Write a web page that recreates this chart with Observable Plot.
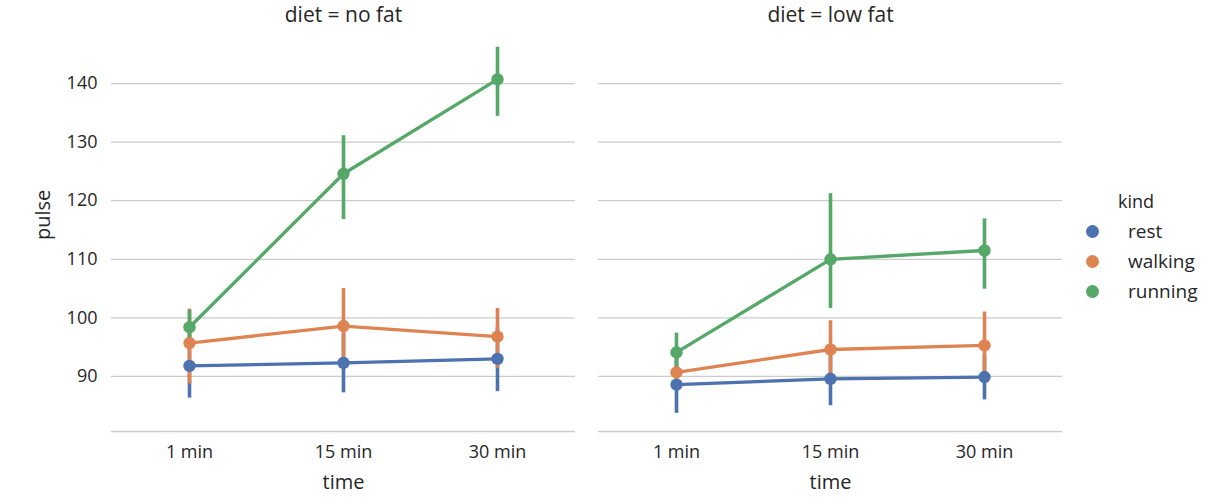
<!DOCTYPE html>
<html>
<head>
<meta charset="utf-8">
<script src="https://cdn.jsdelivr.net/npm/d3@7"></script>
<script src="https://cdn.jsdelivr.net/npm/@observablehq/plot@0.6"></script>
<style>
  html, body { margin: 0; padding: 0; background: white; }
  #wrap { position: relative; width: 1208px; height: 501px; font-family: 'Open Sans', 'Noto Sans', sans-serif; color: #262626; }
  #legend { position: absolute; left: 1080px; top: 189px; font-size: 19px; }
  #legend .title { position: absolute; left: 38px; top: 0; white-space: nowrap; font-size: 18px; }
  #legend .item { position: absolute; left: 0; white-space: nowrap; height: 26px; line-height: 26px; }
  #legend .sw { position: absolute; left: 6px; top: 6.5px; width: 13px; height: 13px; border-radius: 50%; }
  #legend .lab { position: absolute; left: 48px; top: 0; }
</style>
</head>
<body>
<div id="wrap"><div id="chart"></div><div id="legend"></div></div>
<script>
const diets = ["no fat", "low fat"];
const kinds = ["rest", "walking", "running"];
const times = ["1 min", "15 min", "30 min"];
const colors = ["#4c72b0", "#dd8452", "#55a868"];
const yTicks = [90, 100, 110, 120, 130, 140];
const yMin = 80.6, yMax = 149.4;

// values ordered: rest (1,15,30 min), walking (1,15,30), running (1,15,30)
const meanNoFat = [91.8, 92.3, 93.0, 95.7, 98.6, 96.8, 98.4, 124.6, 140.7];
const lowNoFat  = [86.3, 87.2, 87.4, 88.7, 91.6, 91.4, 95.5, 116.8, 134.4];
const highNoFat = [97.2, 97.4, 98.4, 101.5, 105.0, 101.6, 101.3, 131.1, 146.2];
const meanLowFat = [88.6, 89.6, 89.9, 90.7, 94.6, 95.3, 94.1, 110.0, 111.5];
const lowLowFat  = [83.7, 85.0, 86.0, 87.6, 89.6, 89.2, 90.5, 101.6, 104.9];
const highLowFat = [93.4, 94.2, 93.8, 93.6, 99.5, 101.0, 97.4, 121.2, 116.9];

const means = [meanNoFat, meanLowFat], lows = [lowNoFat, lowLowFat], highs = [highNoFat, highLowFat];
const rows = [];
diets.forEach((diet, di) => kinds.forEach((kind, ki) => times.forEach((time, ti) => {
  const i = ki * 3 + ti;
  rows.push({diet, kind, time, pulse: means[di][i], low: lows[di][i], high: highs[di][i]});
})));

const font = "'Open Sans', 'Noto Sans', sans-serif";
const chart = Plot.plot({
  width: 1208,
  height: 501,
  marginLeft: 110,
  marginRight: 145,
  marginTop: 28,
  marginBottom: 70,
  style: {fontFamily: font, fontSize: "18px", color: "#262626", background: "white", overflow: "visible"},
  fx: {domain: diets, padding: 0.0471, axis: null},
  x: {type: "point", domain: times, padding: 0.5, label: null, tickSize: 0, tickPadding: 14},
  y: {domain: [yMin, yMax], ticks: yTicks, label: null, tickSize: 0, tickPadding: 14},
  color: {domain: kinds, range: colors},
  marks: [
    Plot.ruleY(yTicks, {stroke: "#cccccc", strokeWidth: 1.2}),
    Plot.ruleY([yMin], {stroke: "#cccccc", strokeWidth: 1.5}),
    Plot.ruleX(rows, {fx: "diet", x: "time", y1: "low", y2: "high", stroke: "kind", strokeWidth: 3.6}),
    Plot.line(rows, {fx: "diet", x: "time", y: "pulse", stroke: "kind", z: "kind", strokeWidth: 3.3}),
    Plot.dot(rows, {fx: "diet", x: "time", y: "pulse", fill: "kind", r: 6.2}),
    Plot.text(diets, {fx: d => d, text: d => `diet = ${d}`, frameAnchor: "top", dy: -21, fontSize: 21, fill: "#262626"}),
    Plot.text(diets, {fx: d => d, text: () => "time", frameAnchor: "bottom", dy: 57, fontSize: 20, fill: "#262626"}),
    Plot.text(["no fat"], {fx: d => d, text: () => "pulse", frameAnchor: "left", dx: -68, dy: 10, rotate: -90, fontSize: 20, fill: "#262626"})
  ]
});
document.getElementById("chart").appendChild(chart);

const legend = document.getElementById("legend");
const t = document.createElement("div");
t.className = "title"; t.textContent = "kind"; legend.appendChild(t);
kinds.forEach((k, i) => {
  const it = document.createElement("div");
  it.className = "item";
  it.style.top = (29 + i * 30) + "px";
  const sw = document.createElement("span"); sw.className = "sw"; sw.style.background = colors[i];
  const lb = document.createElement("span"); lb.className = "lab"; lb.textContent = k;
  it.appendChild(sw); it.appendChild(lb);
  legend.appendChild(it);
});
</script>
</body>
</html>
